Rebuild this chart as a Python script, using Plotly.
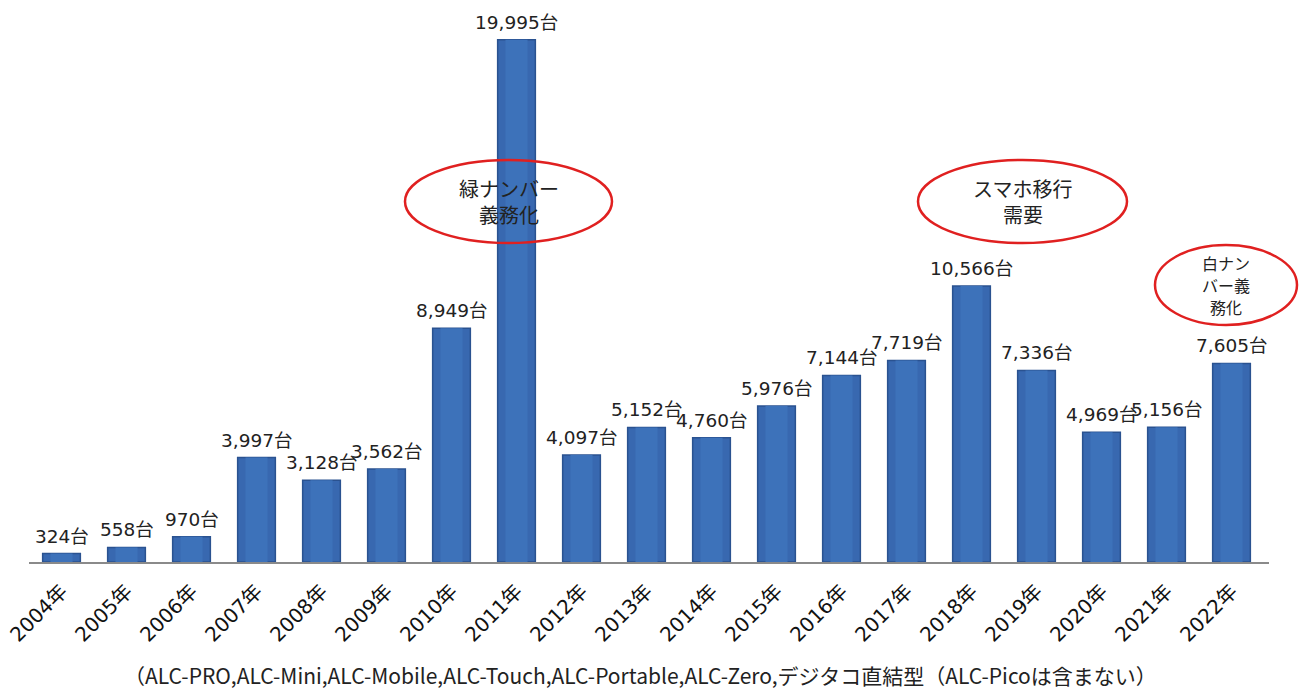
import plotly.graph_objects as go

years = ["2004年", "2005年", "2006年", "2007年", "2008年", "2009年", "2010年", "2011年",
         "2012年", "2013年", "2014年", "2015年", "2016年", "2017年", "2018年", "2019年",
         "2020年", "2021年", "2022年"]
units = [324, 558, 970, 3997, 3128, 3562, 8949, 19995, 4097, 5152, 4760, 5976,
         7144, 7719, 10566, 7336, 4969, 5156, 7605]
labels = [f"{v:,}台" for v in units]

FONT = "DejaVu Sans, Noto Sans CJK JP"
CJK = "Noto Sans CJK JP"
L, R, T, B = 29, 34, 0, 129
W, H = 1303, 691
pw, ph = W - L - R, H - T - B

def px(x):
    return (x - L) / pw

def py(y):
    return (H - B - y) / ph

fig = go.Figure()
fig.add_trace(go.Bar(
    x=years, y=units,
    marker=dict(color="#3868B0", line=dict(color="#2A5290", width=1.5)),
    hoverinfo="skip"))
fig.add_trace(go.Bar(
    x=years, y=units, width=0.34,
    marker=dict(color="#3D72BA", line=dict(width=0)),
    hoverinfo="skip"))

for yr, v, lab in zip(years, units, labels):
    fig.add_annotation(x=yr, y=v, xref="x", yref="y", text=lab, showarrow=False,
                       yanchor="bottom", yshift=5,
                       font=dict(family=FONT, size=18.5, color="#222222"))

ellipses = [
    (405, 160, 612, 243, ["緑ナンバー", "義務化"], 20, 26),
    (918, 160, 1127, 243, ["スマホ移行", "需要"], 20, 26),
    (1155, 245, 1297, 325, ["白ナン", "バー義", "務化"], 16, 22),
]
for x0, y0, x1, y1, lines, fs, lh in ellipses:
    fig.add_shape(type="circle", xref="paper", yref="paper",
                  x0=px(x0), x1=px(x1), y0=py(y1), y1=py(y0),
                  line=dict(color="#E02020", width=2.5), fillcolor="rgba(0,0,0,0)")
    cy = (y0 + y1) / 2
    n = len(lines)
    for i, ln in enumerate(lines):
        yy = cy + (i - (n - 1) / 2) * lh
        fig.add_annotation(xref="paper", yref="paper", x=px((x0 + x1) / 2), y=py(yy),
                           text=ln, showarrow=False, xanchor="center", yanchor="middle",
                           font=dict(family=CJK, size=fs, color="#222222"))

fig.add_annotation(xref="paper", yref="paper", x=px(640), y=py(675),
                   text="（ALC-PRO,ALC-Mini,ALC-Mobile,ALC-Touch,ALC-Portable,ALC-Zero,デジタコ直結型（ALC-Picoは含まない）",
                   showarrow=False, xanchor="center", yanchor="middle",
                   font=dict(family=CJK, size=21, color="#222222"))

fig.update_layout(
    width=W, height=H, margin=dict(l=L, r=R, t=T, b=B),
    barmode="overlay", bargap=0.42, showlegend=False,
    paper_bgcolor="white", plot_bgcolor="white",
    xaxis=dict(tickangle=-45, tickfont=dict(family=FONT, size=20, color="#111111"),
               showline=True, linecolor="#8A8A8A", linewidth=1.5, ticks="",
               ticklabelstandoff=8, showgrid=False),
    yaxis=dict(range=[0, 21520], visible=False, showgrid=False),
)
fig.write_html("out.html")
